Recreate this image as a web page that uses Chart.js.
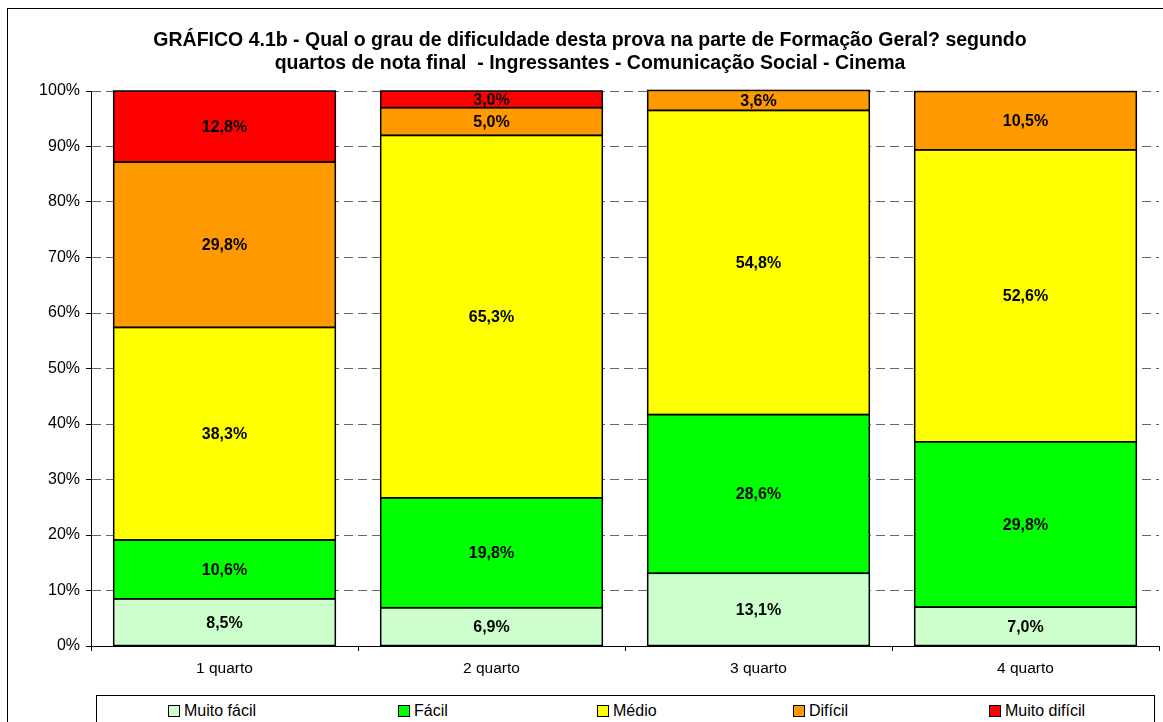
<!DOCTYPE html>
<html>
<head>
<meta charset="utf-8">
<script src="https://cdn.jsdelivr.net/npm/chart.js@4"></script>
<style>
  html, body { margin: 0; padding: 0; background: #fff; overflow: hidden; }
  #wrap { position: relative; width: 1163px; height: 722px; }
  #frame { position: absolute; left: 7px; top: 8px; width: 1200px; height: 800px; border: 1px solid #000; }
  #legend { position: absolute; left: 96px; top: 695px; width: 1057px; height: 60px; border: 1px solid #000; background: #fff;
            font-family: Arial, "Liberation Sans", sans-serif; font-size: 16px; color: #000; }
  .item { position: absolute; top: 6px; display: flex; align-items: center; white-space: nowrap; }
  .sw { width: 10px; height: 10px; border: 1px solid #000; margin-right: 4px; }
  canvas { position: absolute; left: 0; top: 0; }
</style>
</head>
<body>
<div id="wrap">
  <div id="frame"></div>
  <canvas id="c" width="1163" height="722"></canvas>
  <div id="legend"></div>
</div>
<script>
const quarters = ["1 quarto", "2 quarto", "3 quarto", "4 quarto"]
const seriesNames = ["Muito fácil", "Fácil", "Médio", "Difícil", "Muito difícil"]
const muitoFacil = [8.5, 6.9, 13.1, 7.0]
const facil = [10.6, 19.8, 28.6, 29.8]
const medio = [38.3, 65.3, 54.8, 52.6]
const dificil = [29.8, 5.0, 3.6, 10.5]
const muitoDificil = [12.8, 3.0, 0, 0]
const colors = ["#CCFFCC", "#00FF00", "#FFFF00", "#FF9900", "#FF0000"]
const titleLines = ["GRÁFICO 4.1b - Qual o grau de dificuldade desta prova na parte de Formação Geral? segundo",
                    "quartos de nota final  - Ingressantes - Comunicação Social - Cinema"]

const FONT = "Arial, 'Liberation Sans', sans-serif"
const seriesValues = [muitoFacil, facil, medio, dificil, muitoDificil]

// legend positions inside the box (left edge of each swatch)
const legendLeft = [71, 301, 500, 696, 892]
const legend = document.getElementById("legend")
seriesNames.forEach((name, i) => {
    const item = document.createElement("div")
    item.className = "item"
    item.style.left = legendLeft[i] + "px"
    const sw = document.createElement("span")
    sw.className = "sw"
    sw.style.background = colors[i]
    item.appendChild(sw)
    item.appendChild(document.createTextNode(name))
    legend.appendChild(item)
})

// title, outlines and value labels drawn on top of the bars
const extras = {
    id: "extras",
    afterDatasetsDraw(chart) {
        const ctx = chart.ctx
        ctx.save()
        ctx.strokeStyle = "#000"
        ctx.lineWidth = 1.5
        chart.data.datasets.forEach((ds, i) => {
            chart.getDatasetMeta(i).data.forEach((el, j) => {
                if (!ds.data[j]) return
                const top = Math.min(el.y, el.base), h = Math.abs(el.base - el.y)
                ctx.strokeRect(el.x - el.width / 2, top, el.width, h)
            })
        })
        ctx.font = "bold 16px " + FONT
        ctx.fillStyle = "#000"
        ctx.textAlign = "center"
        ctx.textBaseline = "middle"
        chart.data.datasets.forEach((ds, i) => {
            chart.getDatasetMeta(i).data.forEach((el, j) => {
                const v = ds.data[j]
                if (!v) return
                const txt = v.toFixed(1).replace(".", ",") + "%"
                ctx.fillText(txt, el.x, (el.y + el.base) / 2 + 1)
            })
        })
        ctx.font = "bold 19.5px " + FONT
        titleLines.forEach((t, k) => ctx.fillText(t, 590, 41 + k * 23))
        ctx.restore()
    }
}

new Chart(document.getElementById("c"), {
    type: "bar",
    data: {
        labels: quarters,
        datasets: seriesNames.map((name, i) => ({
            label: name,
            data: seriesValues[i],
            backgroundColor: colors[i],
            borderWidth: 0,
            barPercentage: 0.83,
            categoryPercentage: 1
        }))
    },
    options: {
        responsive: false,
        animation: false,
        layout: {padding: {left: 0, right: 4, top: 91, bottom: 0}},
        plugins: {
            legend: {display: false},
            tooltip: {enabled: false},
            title: {display: false}
        },
        scales: {
            x: {
                stacked: true,
                offset: true,
                grid: {offset: true, drawOnChartArea: false, color: "#000", tickLength: 5},
                border: {color: "#000"},
                ticks: {color: "#000", font: {family: FONT, size: 15.5}, padding: 8},
                afterFit: (scale) => { scale.height = 76 }
            },
            y: {
                stacked: true,
                min: 0,
                max: 100,
                ticks: {stepSize: 10, color: "#000", font: {family: FONT, size: 16}, padding: 6,
                        callback: (v) => v + "%"},
                grid: {color: "#666", tickColor: "#000", tickLength: 5},
                border: {color: "#000", dash: [9, 5]},
                afterFit: (scale) => { scale.width = 91 }
            }
        }
    },
    plugins: [extras]
})
</script>
</body>
</html>
